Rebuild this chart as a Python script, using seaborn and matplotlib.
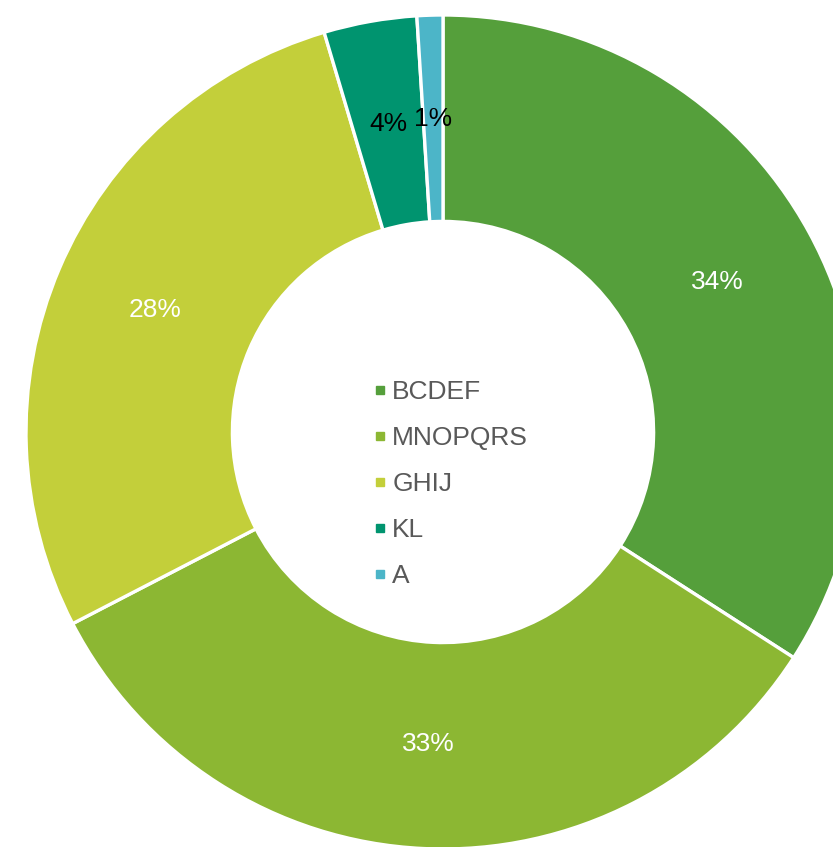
"""
Donut chart of category shares with the legend in the hole
"""

import matplotlib
matplotlib.use('Agg')
import matplotlib.pyplot as plt
import seaborn as sns
from matplotlib.lines import Line2D

# Data
categories = ['BCDEF', 'MNOPQRS', 'GHIJ', 'KL', 'A']
shares = [34.1, 33.3, 28.0, 3.6, 1.0]
colors = ['#559F3B', '#8CB733', '#C3CF3A', '#00946F', '#4CB5C8']
label_colors = ['white', 'white', 'white', 'black', 'black']

sns.set_theme(style='white')
plt.rcParams['font.family'] = ['Liberation Sans', 'DejaVu Sans']

W, H = 833, 847
fig = plt.figure(figsize=(W / 100, H / 100), dpi=100)
ax = fig.add_axes([0, 0, 1, 1])

# pie center / radius in pixels
cx, cy, R = 443, 432, 417

wedges, texts, autotexts = ax.pie(
    shares,
    colors=colors,
    startangle=90,
    counterclock=False,
    radius=1,
    autopct='%.0f%%',
    pctdistance=0.75,
    wedgeprops=dict(width=0.495, edgecolor='white', linewidth=2.4),
    textprops=dict(fontsize=19),
)
for t, c in zip(autotexts, label_colors):
    t.set_color(c)

ax.set_xlim(-cx / R, (W - cx) / R)
ax.set_ylim(-(H - cy) / R, cy / R)
ax.set_aspect('auto')
ax.axis('off')

handles = [Line2D([0], [0], marker='s', linestyle='', markersize=6,
                  markerfacecolor=c, markeredgecolor=c) for c in colors]
leg = ax.legend(handles, categories, loc='center',
                bbox_to_anchor=(451 / W, 1 - 484 / H),
                bbox_transform=fig.transFigure,
                frameon=False, fontsize=19, handlelength=0.5,
                handletextpad=0.2, labelspacing=0.83)
for t in leg.get_texts():
    t.set_color('#595959')

plt.savefig('out.png', dpi=100)
plt.close()
